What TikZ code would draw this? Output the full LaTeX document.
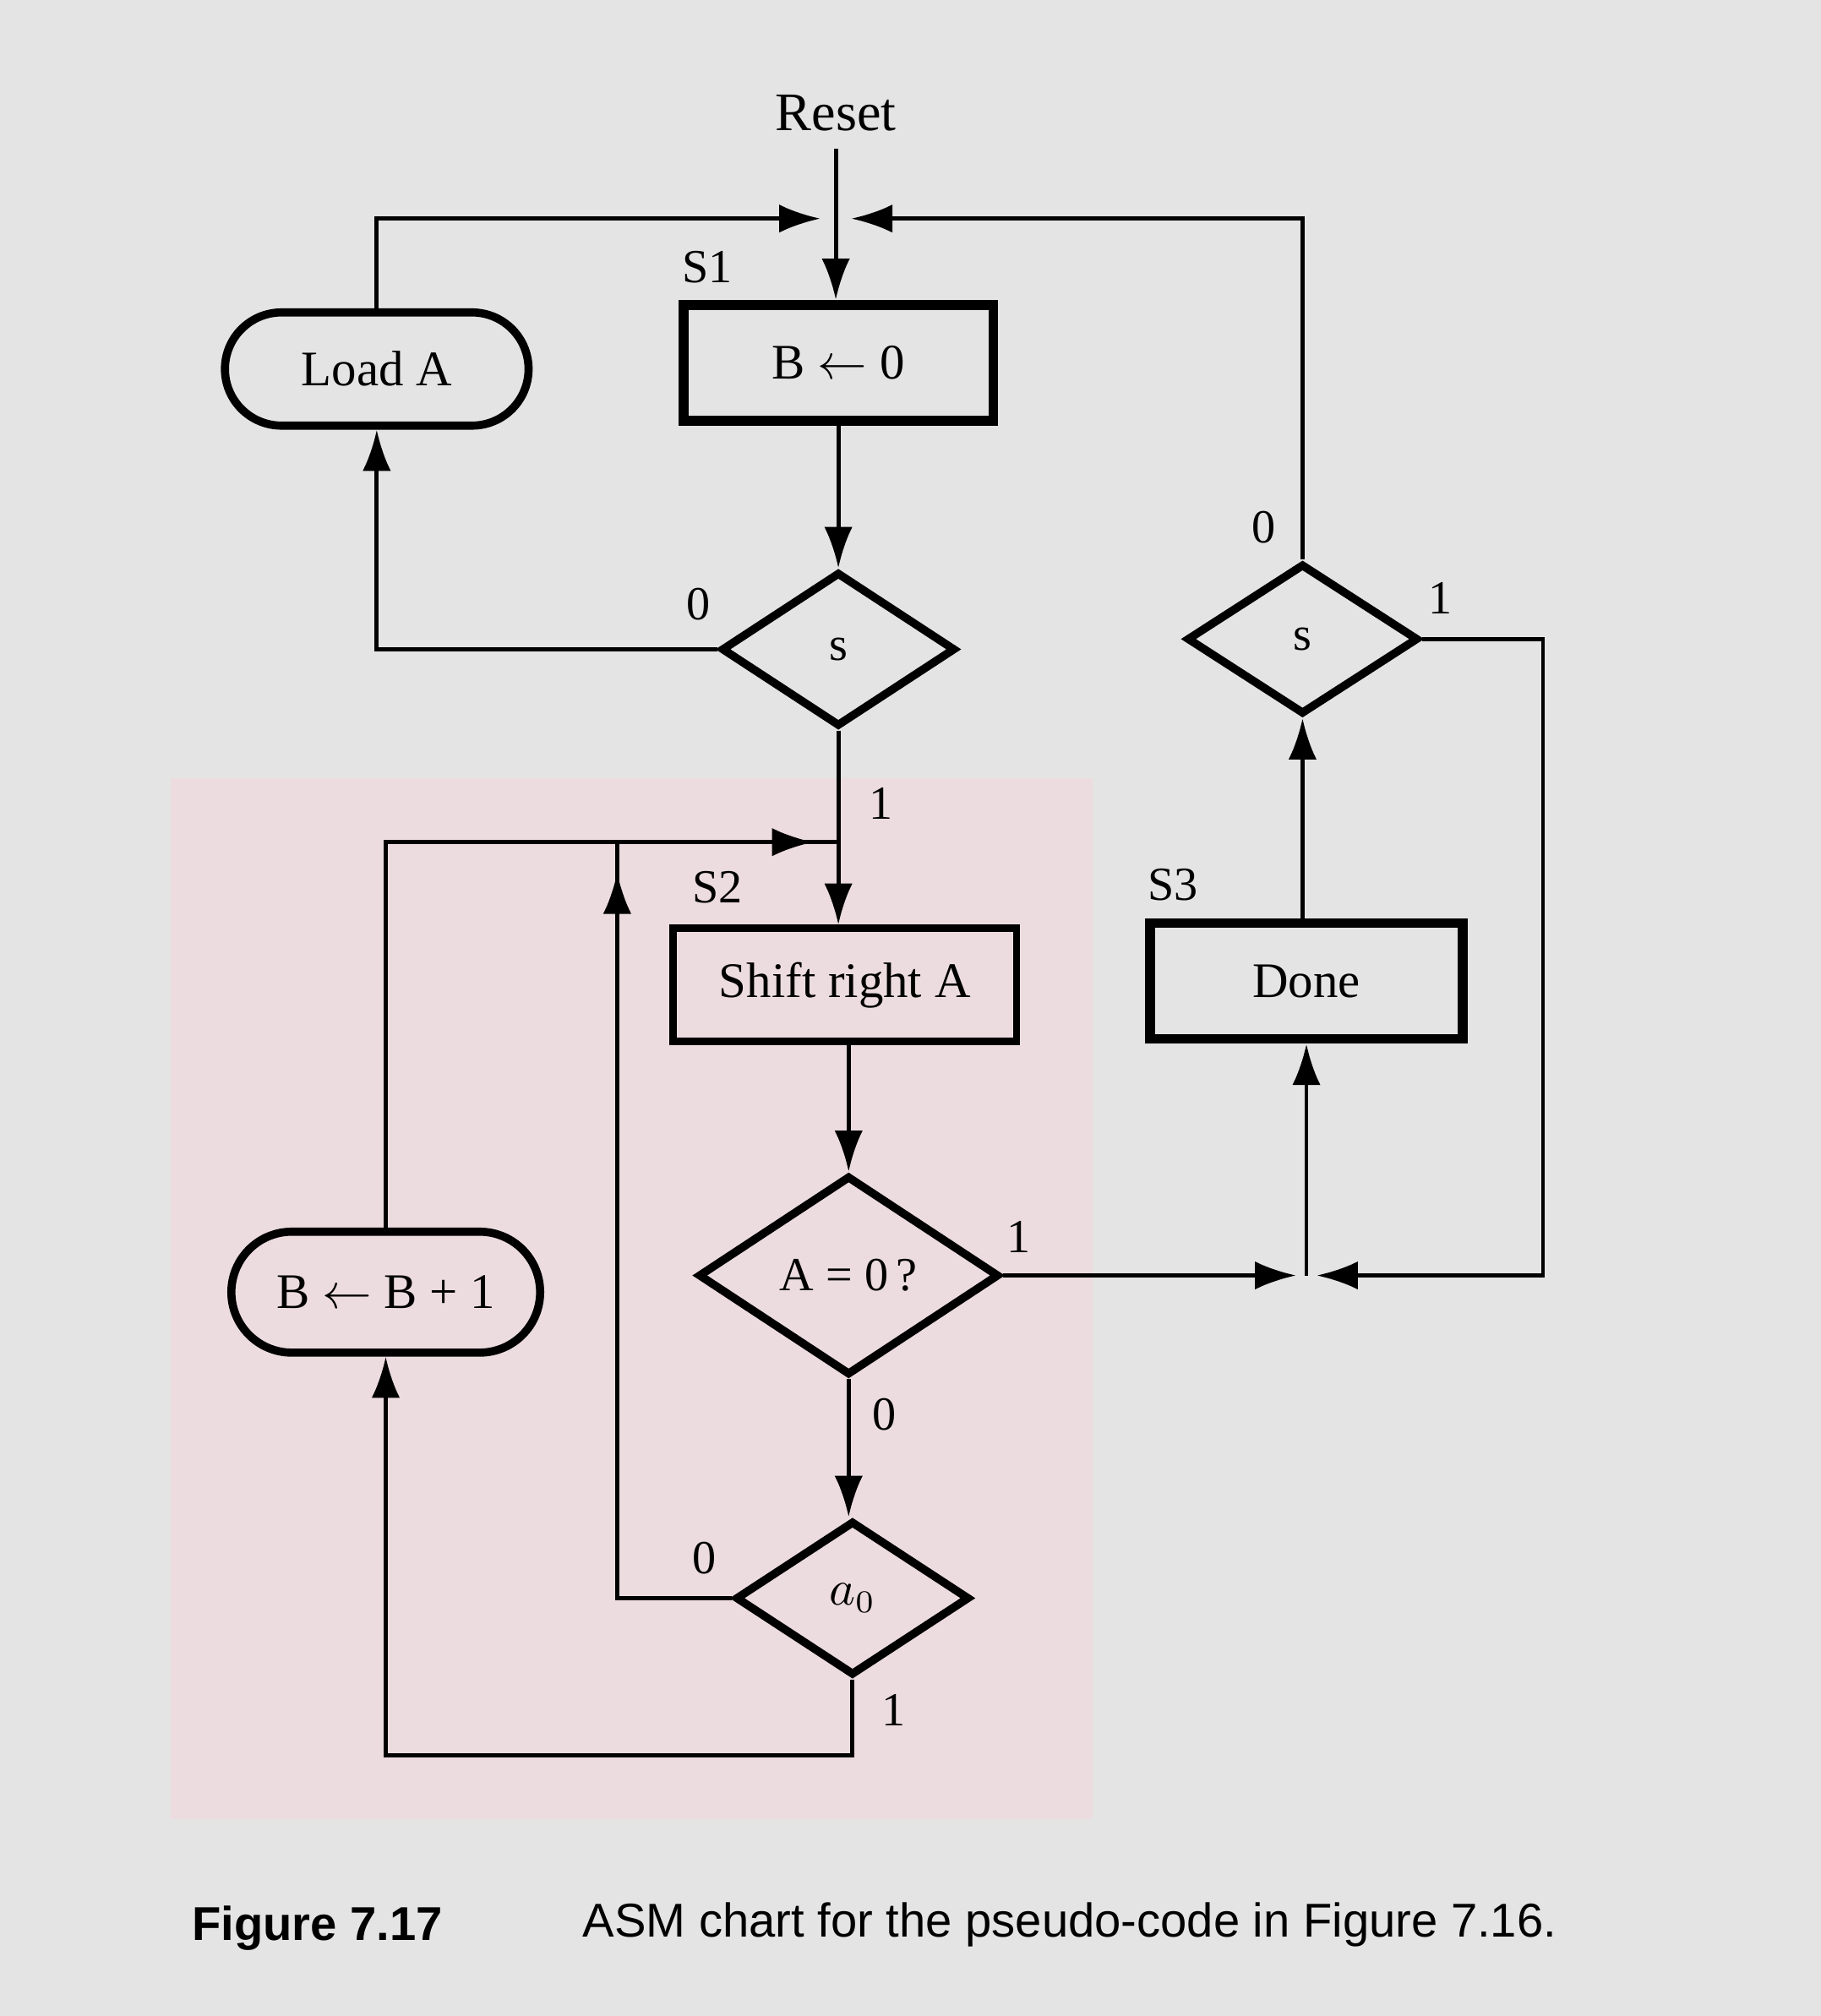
\documentclass[tikz,border=0pt]{standalone}
\usepackage{fontspec}
\setmainfont{Liberation Serif}
\newfontfamily\capfont{Liberation Sans}
\usetikzlibrary{shapes.geometric,shapes.misc,arrows.meta,decorations.markings}
\definecolor{bg}{RGB}{228,228,228}
\definecolor{pk}{RGB}{236,220,224}
\begin{document}
\begin{tikzpicture}[x=0.01cm,y=-0.01cm,
  line width=0.9pt,
  >={Latex[length=3.2mm,width=2.2mm]},
  lbl/.style={font=\fontsize{10.5}{12}\selectfont},
  box/.style={draw,line width=2.2pt,font=\fontsize{11}{13}\selectfont,inner sep=0pt},
  term/.style={draw,rounded rectangle,line width=1.8pt,font=\fontsize{11}{13}\selectfont,inner sep=0pt},
  dia/.style={draw,diamond,line width=1.8pt,inner sep=0pt,font=\fontsize{10.5}{12}\selectfont},
  captext/.style={anchor=west,font=\capfont\fontsize{10.5}{12}\selectfont},
  marr/.style={postaction={decorate,decoration={markings,mark=at position #1 with {\arrow{>}}}}}]
\fill[bg] (0,0) rectangle (1416,1568);
\fill[pk] (133,605) rectangle (850,1415);
\useasboundingbox (0,0) rectangle (1416,1568);

\node[lbl,font=\fontsize{12}{14}\selectfont] (reset) at (650,88) {Reset};
\node[term,minimum width=2.36cm,minimum height=0.88cm] (loadA) at (293,287) {Load A};
\node[box,minimum width=2.41cm,minimum height=0.9cm] (b0) at (652,282) {B $\leftarrow$ 0};
\node[dia,minimum width=1.82cm,minimum height=1.2cm] (s1) at (652,505) {s};
\node[box,line width=1.6pt,minimum width=2.67cm,minimum height=0.88cm] (shift) at (657,766) {Shift right A};
\node[box,minimum width=2.43cm,minimum height=0.9cm] (done) at (1016,763) {Done};
\node[dia,minimum width=1.8cm,minimum height=1.17cm] (s3) at (1013,497) {s};
\node[dia,minimum width=2.34cm,minimum height=1.55cm] (az) at (660,992) {A = 0\,?};
\node[dia,minimum width=1.82cm,minimum height=1.2cm] (a0) at (663,1243) {$a_0$};
\node[term,minimum width=2.4cm,minimum height=0.94cm] (binc) at (300,1005) {B $\leftarrow$ B + 1};

\node[lbl] (lS1) at (550,208) {S1};
\node[lbl] (lS2) at (558,690) {S2};
\node[lbl] (lS3) at (912,688) {S3};
\node[lbl] (l1) at (543,470) {0};
\node[lbl] (l2) at (685,625) {1};
\node[lbl] (l3) at (983,410) {0};
\node[lbl] (l4) at (1120,465) {1};
\node[lbl] (l5) at (792,962) {1};
\node[lbl] (l6) at (688,1100) {0};
\node[lbl] (l7) at (548,1212) {0};
\node[lbl] (l8) at (695,1330) {1};

\coordinate (t1) at (638,170);
\coordinate (t2) at (662,170);
\coordinate (m1) at (652,655);
\coordinate (r1) at (1008,992);
\coordinate (r2) at (1024,992);
\coordinate (rm) at (1016,992);

\draw[->] (reset.south) -- (reset.south |- b0.north);
\draw[->] (loadA.north) |- (t1);
\draw[->] (s3.north) |- (t2);
\draw[->] (b0.south) -- (s1.north);
\draw[->] (s1.west) -| (loadA.south);
\draw[->] (s1.south) -- (s1.south |- shift.north);
\draw[marr=0.97] (binc.north) |- (m1);
\draw[marr=0.965] (a0.west) -| (480,655);
\draw[->] (az.north |- shift.south) -- (az.north);
\draw[->] (az.south) -- (az.south |- a0.north);
\draw[->] (a0.south) |- (binc.south |- 0,1365) -- (binc.south);
\draw[->] (az.east) -- (r1);
\draw[->] (s3.east) -| (1200,992) -- (r2);
\draw[->] (rm) -- (done.south);
\draw[->] (s3.south |- done.north) -- (s3.south);

\node[captext,font=\capfont\bfseries\fontsize{10.5}{12}\selectfont] (fig) at (136,1500) {Figure 7.17};
\node[captext] (capt) at (440,1497) {ASM chart for the pseudo-code in Figure 7.16.};
\end{tikzpicture}
\end{document}
